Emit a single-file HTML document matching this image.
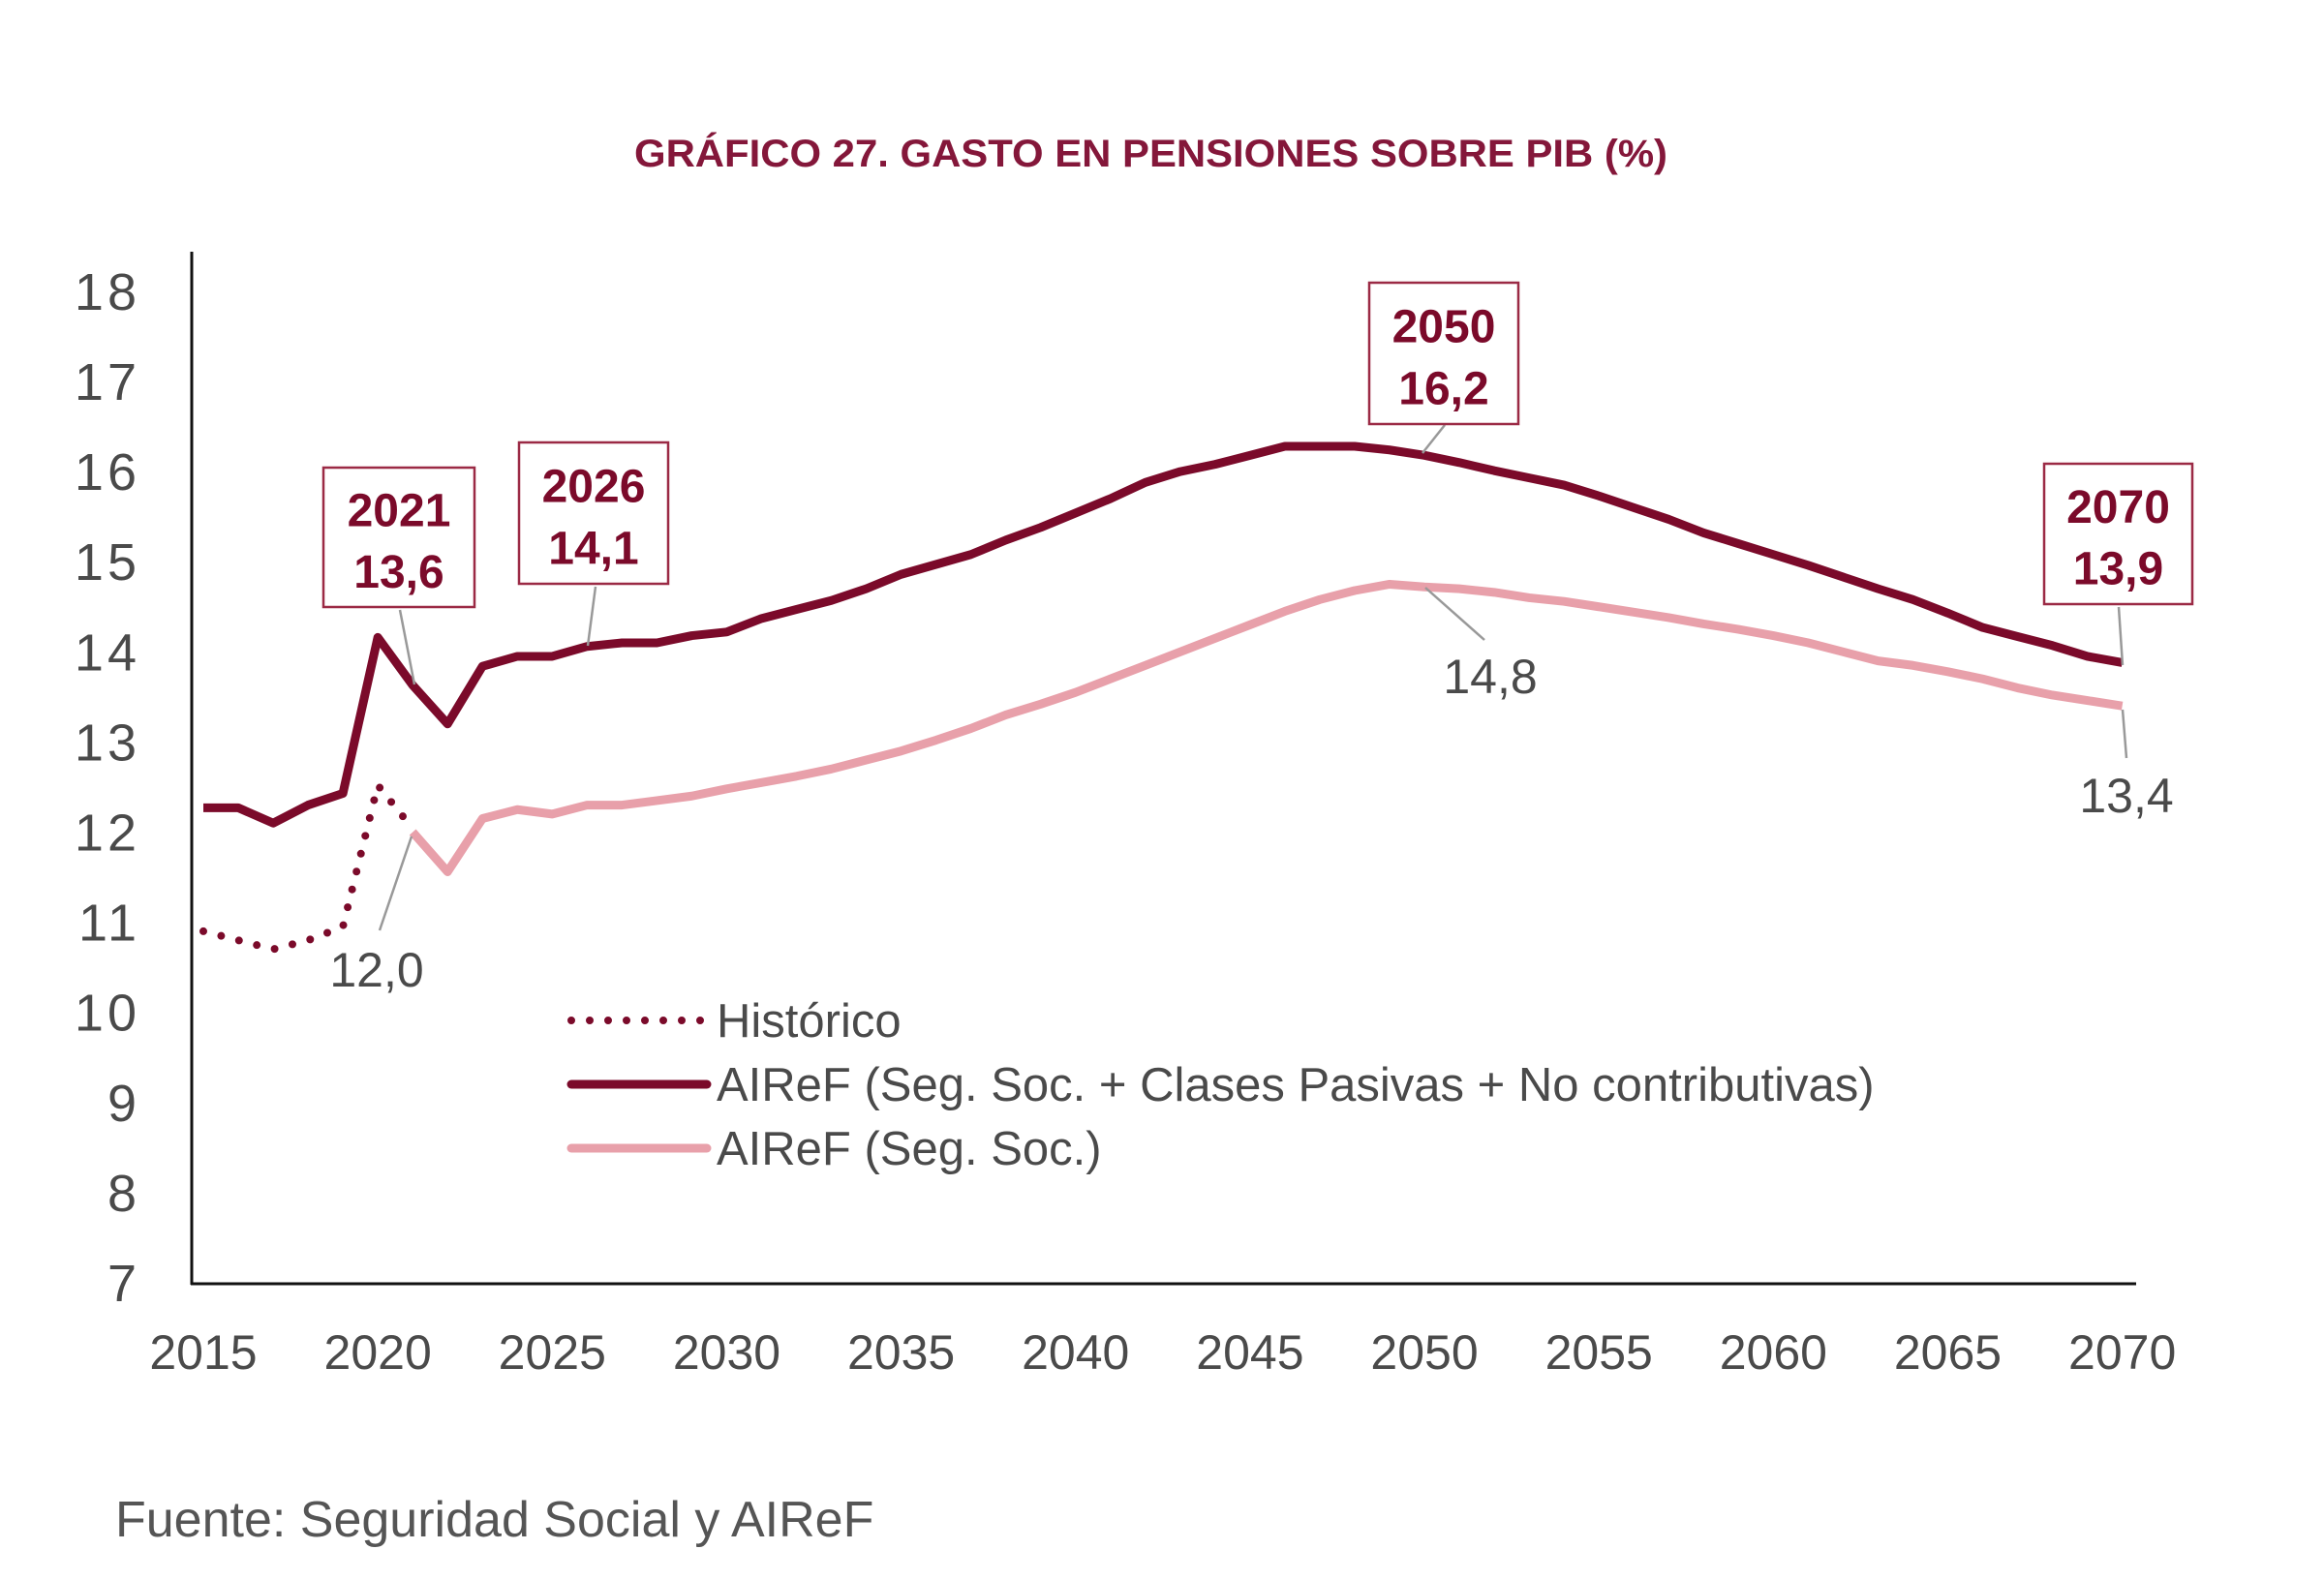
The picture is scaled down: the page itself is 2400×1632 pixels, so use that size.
<!DOCTYPE html>
<html><head><meta charset="utf-8"><style>
body{margin:0;background:#fff;}
svg{display:block;font-family:"Liberation Sans",sans-serif;}
</style></head><body>
<svg id="chart" width="2400" height="1632" viewBox="0 0 2400 1632">
<text x="655" y="172" font-size="40" font-weight="bold" fill="#84173a" textLength="1067" lengthAdjust="spacingAndGlyphs">GRÁFICO 27.  GASTO EN PENSIONES SOBRE PIB (%)</text>
<g id="axes"></g>
<g id="series"></g>
<g id="annot"></g>
<g>
<line x1="590" y1="1054" x2="727" y2="1054" stroke="#7b0a2a" stroke-width="8" stroke-linecap="round" stroke-dasharray="0 19"/>
<text x="740" y="1071" font-size="49" fill="#4a4a4a">Histórico</text>
<line x1="590" y1="1120" x2="730" y2="1120" stroke="#7b0a2a" stroke-width="9" stroke-linecap="round"/>
<text x="740" y="1137" font-size="49" fill="#4a4a4a">AIReF (Seg. Soc. + Clases Pasivas + No contributivas)</text>
<line x1="590" y1="1186" x2="730" y2="1186" stroke="#e8a0aa" stroke-width="9" stroke-linecap="round"/>
<text x="740" y="1203" font-size="49" fill="#4a4a4a">AIReF (Seg. Soc.)</text>
</g>
<text x="119" y="1587" font-size="52" fill="#555">Fuente: Seguridad Social y AIReF</text>
</svg>
<script>
const years = [];
for (let y = 2015; y <= 2070; y++) years.push(y);
const totalValues = [12.27,12.27,12.1,12.3,12.43,14.16,13.63,13.2,13.84,13.95,13.95,14.06,14.1,14.1,14.18,14.22,14.37,14.47,14.57,14.7,14.86,14.97,15.08,15.24,15.38,15.54,15.7,15.88,16.0,16.08,16.18,16.28,16.28,16.28,16.24,16.18,16.1,16.01,15.93,15.85,15.73,15.6,15.47,15.32,15.2,15.08,14.96,14.83,14.7,14.58,14.43,14.27,14.17,14.07,13.95,13.88];
const segSocYears = [2021,2022,2023,2024,2025,2026,2027,2028,2029,2030,2031,2032,2033,2034,2035,2036,2037,2038,2039,2040,2041,2042,2043,2044,2045,2046,2047,2048,2049,2050,2051,2052,2053,2054,2055,2056,2057,2058,2059,2060,2061,2062,2063,2064,2065,2066,2067,2068,2069,2070];
const segSocValues = [12.0,11.56,12.15,12.25,12.2,12.3,12.3,12.35,12.4,12.48,12.55,12.62,12.7,12.8,12.9,13.02,13.15,13.3,13.42,13.55,13.7,13.85,14.0,14.15,14.3,14.45,14.58,14.68,14.75,14.72,14.7,14.66,14.6,14.56,14.5,14.44,14.38,14.31,14.25,14.18,14.1,14.0,13.9,13.85,13.78,13.7,13.6,13.52,13.46,13.4];
const histYears = [2015,2016,2017,2018,2019,2020,2021];
const histValues = [10.9,10.8,10.7,10.8,10.95,12.52,12.04];
const yTicks = [7,8,9,10,11,12,13,14,15,16,17,18];
const xTicks = [2015,2020,2025,2030,2035,2040,2045,2050,2055,2060,2065,2070];
const NS = "http://www.w3.org/2000/svg";
const xs = y => 210 + (y - 2015) * 36.03;
const ys = v => 1325 - (v - 7) * 93.1;
function el(tag, attrs, parent, text){
  const e = document.createElementNS(NS, tag);
  for (const k in attrs) e.setAttribute(k, attrs[k]);
  if (text !== undefined) e.textContent = text;
  parent.appendChild(e); return e;
}
const axes = document.getElementById('axes');
let a = el('line', {x1:198,y1:260,x2:198,y2:1327,stroke:'#111','stroke-width':3}, axes);


a = el('line', {x1:197,y1:1326,x2:2206,y2:1326,stroke:'#111','stroke-width':3}, axes);


yTicks.forEach(t => {
  const e = el('text', {x:145,y:ys(t)+19,'font-size':54,fill:'#4a4a4a','text-anchor':'end','letter-spacing':'4'}, axes, String(t));
  
  
});
xTicks.forEach(t => {
  const e = el('text', {x:xs(t),y:1414,'font-size':50,fill:'#4a4a4a','text-anchor':'middle'}, axes, String(t));
  
  
});
const series = document.getElementById('series');
function pts(xv, yv){ return xv.map((x,i)=>xs(x)+','+ys(yv[i])).join(' '); }
let s = el('polyline', {points:pts(histYears,histValues),fill:'none',stroke:'#7b0a2a','stroke-width':8,'stroke-linecap':'round','stroke-dasharray':'0 19'}, series);


s = el('polyline', {points:pts(segSocYears,segSocValues),fill:'none',stroke:'#e8a0aa','stroke-width':9,'stroke-linejoin':'round'}, series);


s = el('polyline', {points:pts(years,totalValues),fill:'none',stroke:'#7b0a2a','stroke-width':9,'stroke-linejoin':'round'}, series);


const an = document.getElementById('annot');
function leader(x1,y1,x2,y2){
  const l = el('line', {x1,y1,x2,y2,stroke:'#999','stroke-width':2.5}, an);
  
  
}
function box(x,y,w,h,l1,l2){
  const r = el('rect', {x,y,width:w,height:h,fill:'#fff',stroke:'#9b2a45','stroke-width':2.5}, an);
  
  
  const t1 = el('text', {x:x+w/2,y:y+h*0.42,'font-size':48,'font-weight':'bold',fill:'#7b0a2a','text-anchor':'middle'}, an, l1);
  
  
  const t2 = el('text', {x:x+w/2,y:y+h*0.86,'font-size':48,'font-weight':'bold',fill:'#7b0a2a','text-anchor':'middle'}, an, l2);
  
  
}
leader(413,630,428,707); leader(615,606,607,667); leader(1492,439,1469,468);
leader(1472,607,1533,661); leader(2188,627,2192,687); leader(2192,733,2196,783); leader(425,864,392,961);
box(334,483,156,144,'2021','13,6');
box(536,457,154,146,'2026','14,1');
box(1414,292,154,146,'2050','16,2');
box(2111,479,153,145,'2070','13,9');
function lbl(x,y,t){
  const e = el('text', {x,y,'font-size':50,fill:'#4a4a4a','text-anchor':'middle'}, an, t);
  
  
}
lbl(1539,716,'14,8'); lbl(2196,839,'13,4'); lbl(389,1019,'12,0');
</script>
</body></html>
